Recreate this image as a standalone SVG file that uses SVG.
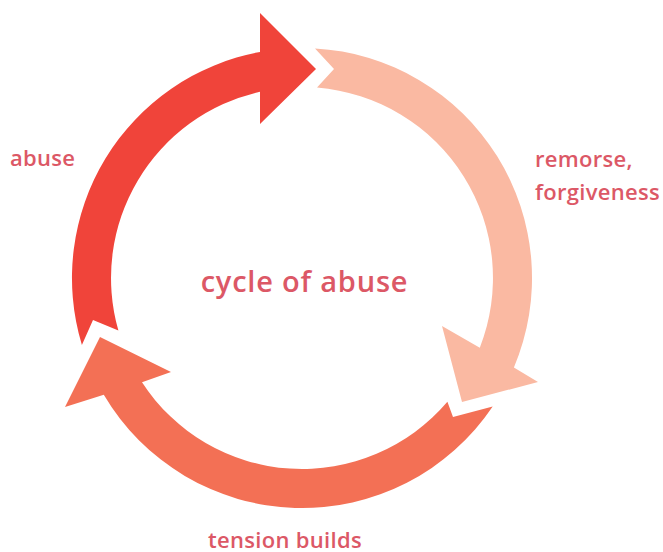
<svg xmlns="http://www.w3.org/2000/svg" width="663" height="552" viewBox="0 0 663 552">
<style>
.lbl{font-family:"Open Sans","Liberation Sans",sans-serif;font-weight:600;fill:#DC5866;font-size:22px;letter-spacing:0.3px}
.title{font-family:"Open Sans","Liberation Sans",sans-serif;font-weight:600;fill:#DC5866;font-size:29px;letter-spacing:0.8px}
</style>
<rect width="663" height="552" fill="#FFFFFF"/>
<g id="connectors">
<path id="arrow-abuse" fill="#F0443A" d="M81.9,344.9 A230,230 0 0 1 260,51.9 L260,13 L316,69 L260,124 L260,91.7 A191,191 0 0 0 118.4,330.6 L93,320 Z"/>
<path id="arrow-remorse" fill="#FAB9A2" d="M315,48.4 A230,230 0 0 1 513.9,367.5 L538,382 L462,402 L442,326 L479.8,347.7 A191,191 0 0 0 317,87.6 L334,69 Z"/>
<path id="arrow-tension" fill="#F37055" d="M492.7,406.6 A230,230 0 0 1 103.8,394.7 L65,407 L100,337 L171,372 L142,382.3 A191,191 0 0 0 447.4,401.8 L453,417 Z"/>
</g>
<g id="node-center"><text class="title" x="304.5" y="291.5" text-anchor="middle">cycle of abuse</text></g>
<g id="node-abuse"><text class="lbl" x="10" y="165.5">abuse</text></g>
<g id="node-remorse"><text class="lbl" x="535" y="167.3">remorse,</text><text class="lbl" x="535" y="200">forgiveness</text></g>
<g id="node-tension"><text class="lbl" x="285" y="547.5" text-anchor="middle">tension builds</text></g>
</svg>
